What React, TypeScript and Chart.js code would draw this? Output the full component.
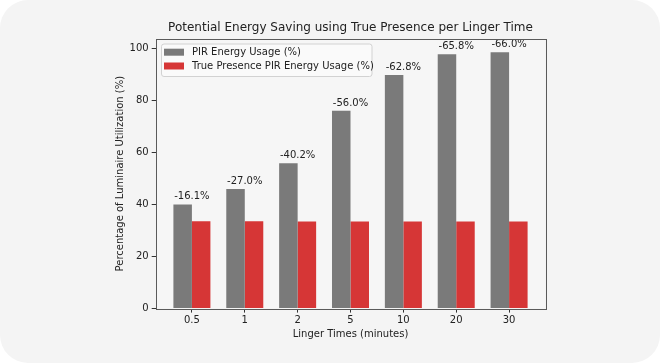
import React, { useEffect, useRef } from "react";
import { Chart, registerables } from "chart.js";

Chart.register(...registerables);

const categories = ["0.5", "1", "2", "5", "10", "20", "30"];
const pirUsage = [40.0, 45.9, 55.8, 75.9, 89.7, 97.6, 98.4];
const truePresenceUsage = [33.5, 33.5, 33.4, 33.4, 33.4, 33.4, 33.4];
const savingLabels = ["-16.1%", "-27.0%", "-40.2%", "-56.0%", "-62.8%", "-65.8%", "-66.0%"];
const yTicks = [0, 20, 40, 60, 80, 100];
const seriesNames = ["PIR Energy Usage (%)", "True Presence PIR Energy Usage (%)"];
const seriesColors = ["#7a7a7a", "#d63636"];

const FONT = "'DejaVu Sans', sans-serif";

const overlayPlugin = {
  id: "overlay",
  beforeDraw(chart: any) {
    const { ctx, chartArea: a } = chart;
    ctx.save();
    ctx.fillStyle = "#f6f6f6";
    ctx.fillRect(a.left, a.top, a.right - a.left, a.bottom - a.top);
    ctx.restore();
  },
  afterDatasetsDraw(chart: any) {
    const { ctx, chartArea: a, scales } = chart;
    const meta = chart.getDatasetMeta(0);
    ctx.save();
    ctx.fillStyle = "#222";
    ctx.font = `10px ${FONT}`;
    ctx.textAlign = "center";
    ctx.textBaseline = "alphabetic";
    meta.data.forEach((bar: any, i: number) => {
      const x = scales.x.getPixelForValue(i);
      ctx.fillText(savingLabels[i], x, bar.y - 5);
    });
    ctx.strokeStyle = "#5a5a5a";
    ctx.lineWidth = 1;
    ctx.strokeRect(Math.round(a.left) + 0.5, Math.round(a.top) + 0.5, Math.round(a.right - a.left), Math.round(a.bottom - a.top));
    const lx = 161, ly = 43.5, lw = 210.5, lh = 32.5;
    ctx.beginPath();
    ctx.roundRect(lx + 0.5, ly + 0.5, lw, lh, 2.5);
    ctx.fillStyle = "rgba(250,250,250,0.85)";
    ctx.fill();
    ctx.strokeStyle = "#d2d2d2";
    ctx.stroke();
    const rows = [52.2, 66];
    rows.forEach((cy, i) => {
      ctx.fillStyle = seriesColors[i];
      ctx.fillRect(164, cy - 3.5, 20, 7);
      ctx.fillStyle = "#222";
      ctx.textAlign = "left";
      ctx.textBaseline = "middle";
      ctx.fillText(seriesNames[i], 192, cy + 0.5);
    });
    ctx.restore();
  },
};

export default function App() {
  const ref = useRef<HTMLCanvasElement>(null);
  useEffect(() => {
    document.body.style.margin = "0";
    const chart = new Chart(ref.current!, {
      type: "bar",
      data: {
        datasets: [
          {
            label: seriesNames[0],
            data: pirUsage.map((v, i) => ({ x: i, y: v })),
            backgroundColor: seriesColors[0],
            borderWidth: 0,
            barPercentage: 1,
            categoryPercentage: 0.7,
          },
          {
            label: seriesNames[1],
            data: truePresenceUsage.map((v, i) => ({ x: i, y: v })),
            backgroundColor: seriesColors[1],
            borderWidth: 0,
            barPercentage: 1,
            categoryPercentage: 0.7,
          },
        ],
      },
      options: {
        animation: false,
        responsive: false,
        maintainAspectRatio: false,
        layout: { padding: { left: 110, right: 114.7, top: 15, bottom: 20 } },
        plugins: {
          legend: { display: false },
          tooltip: { enabled: false },
          title: {
            display: true,
            text: "Potential Energy Saving using True Presence per Linger Time",
            fullSize: false,
            color: "#222",
            font: { family: FONT, size: 12, weight: "normal" },
            padding: { top: 6.1, bottom: 3.2 },
          },
        },
        scales: {
          x: {
            type: "linear",
            offset: false,
            min: -0.685,
            max: 6.685,
            afterBuildTicks: (axis: any) => {
              axis.ticks = categories.map((_, i) => ({ value: i }));
            },
            afterFit: (axis: any) => {
              axis.height = 34.4;
            },
            ticks: {
              callback: (v: any) => categories[v] ?? "",
              color: "#222",
              font: { family: FONT, size: 10 },
              padding: 2,
              maxRotation: 0,
              autoSkip: false,
            },
            grid: { offset: false, drawOnChartArea: false, drawTicks: true, tickLength: 4, tickColor: "#333", tickWidth: 1 },
            border: { display: false },
            title: {
              display: true,
              text: "Linger Times (minutes)",
              color: "#222",
              font: { family: FONT, size: 10 },
              padding: { top: 4, bottom: 3 },
            },
          },
          y: {
            type: "linear",
            min: 0,
            max: 103.6,
            afterBuildTicks: (axis: any) => {
              axis.ticks = yTicks.map((v) => ({ value: v }));
            },
            afterFit: (axis: any) => {
              axis.width = 45.7;
            },
            ticks: {
              color: "#222",
              font: { family: FONT, size: 10 },
              padding: 3,
            },
            grid: { drawOnChartArea: false, drawTicks: true, tickLength: 4, tickColor: "#333", tickWidth: 1 },
            border: { display: false },
            title: {
              display: true,
              text: "Percentage of Luminaire Utilization (%)",
              color: "#222",
              font: { family: FONT, size: 10 },
              padding: { top: 4, bottom: 4 },
            },
          },
        },
      },
      plugins: [overlayPlugin],
    } as any);
    return () => chart.destroy();
  }, []);
  return (
    <div style={{ width: 660, height: 363, background: "#f4f4f4", borderRadius: 28, overflow: "hidden" }}>
      <canvas ref={ref} width={660} height={363} style={{ display: "block" }} />
    </div>
  );
}
